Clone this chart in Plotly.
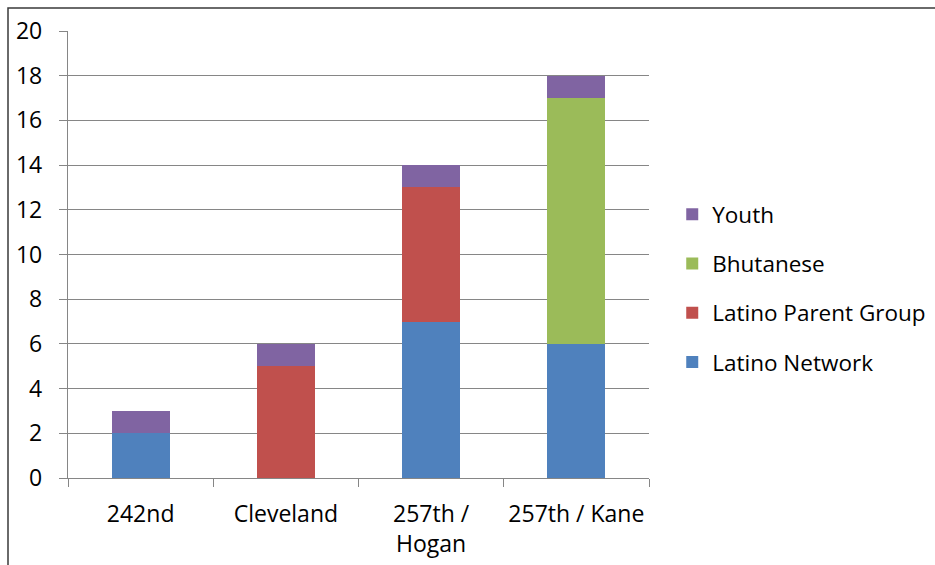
import plotly.graph_objects as go

categories = ["242nd", "Cleveland", "257th /<br>Hogan", "257th / Kane"]
latino_network = [2, 0, 7, 6]
latino_parent = [0, 5, 6, 0]
bhutanese = [0, 0, 0, 11]
youth = [1, 1, 1, 1]
y_ticks = [0, 2, 4, 6, 8, 10, 12, 14, 16, 18, 20]

series = [
    ("Latino Network", latino_network, "#4F81BD"),
    ("Latino Parent Group", latino_parent, "#C0504D"),
    ("Bhutanese", bhutanese, "#9BBB59"),
    ("Youth", youth, "#8064A2"),
]

FONT = "Open Sans, Calibri, sans-serif"
FS = 23

fig = go.Figure()
n = len(series)
for i, (name, vals, col) in enumerate(series):
    fig.add_trace(go.Bar(x=categories, y=vals, name=name, marker_color=col,
                         marker_line_width=0, legendgroup=f"g{i}",
                         legendrank=1000 + (n - i)))

L, R, T, B = 68, 286, 31, 87
W, H = 935, 565
pw, ph = W - L - R, H - T - B

fig.update_layout(
    width=W, height=H,
    margin=dict(l=L, r=R, t=T, b=B, pad=0, autoexpand=False),
    barmode="stack", bargap=0.6,
    plot_bgcolor="white", paper_bgcolor="white",
    font=dict(family=FONT, size=FS, color="#000000"),
    legend=dict(traceorder="grouped", x=1.040, xanchor="left", y=0.425, yanchor="middle",
                tracegroupgap=17, font=dict(size=22.5, family=FONT), itemwidth=30),
    xaxis=dict(showline=True, linecolor="#868686", linewidth=1.3, ticks="outside",
               tickson="boundaries", ticklen=8, tickcolor="#868686", tickwidth=1.3,
               tickfont=dict(size=FS, family=FONT), showgrid=False, ticklabelstandoff=15,
               tickangle=0, automargin=False),
    yaxis=dict(range=[0, 20], tickvals=y_ticks, showline=True, linecolor="#868686",
               linewidth=1.3, ticks="outside", ticklen=8, tickcolor="#868686", tickwidth=1.3,
               showgrid=True, gridcolor="#868686", gridwidth=1.3, ticklabelstandoff=12,
               tickfont=dict(size=FS, family=FONT), zeroline=False, automargin=False),
    shapes=[dict(type="rect", xref="paper", yref="paper",
                 x0=(8 - L) / pw, x1=(W + 20 - L) / pw,
                 y0=-(H + 20 - (T + ph)) / ph, y1=(T + ph - 8) / ph,
                 line=dict(color="#3a3a3a", width=1.5), layer="below")],
)

fig.write_html("out.html")
